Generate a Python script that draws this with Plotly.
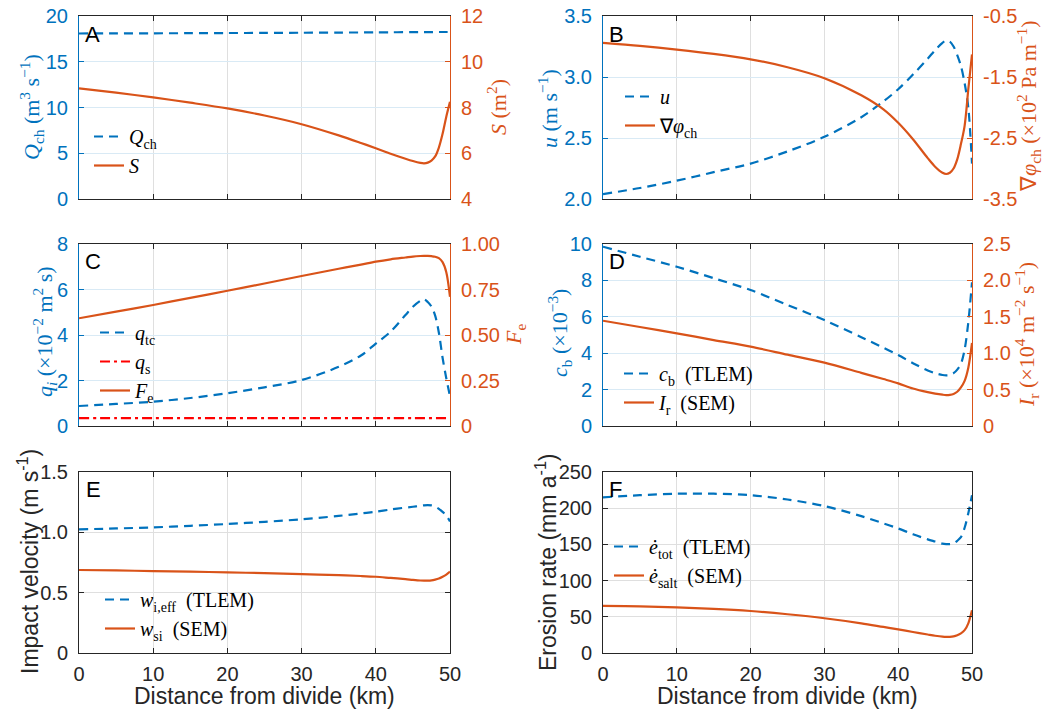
import plotly.graph_objects as go

# ---------------- data ----------------
dist_km = [0, 5, 10, 15, 20, 25, 30, 35, 38, 40, 42, 44, 45, 46, 46.5, 47, 47.5, 48, 48.5, 49, 49.5, 50]

# Panel A
Q_ch = [18.09, 18.10, 18.11, 18.12, 18.14, 18.15, 18.17, 18.19, 18.20, 18.21, 18.22, 18.23, 18.23, 18.24, 18.24, 18.24, 18.24, 18.25, 18.25, 18.25, 18.25, 18.25]
S_area = [8.84, 8.65, 8.44, 8.21, 7.96, 7.65, 7.27, 6.78, 6.45, 6.22, 5.98, 5.76, 5.66, 5.58, 5.56, 5.59, 5.68, 5.86, 6.25, 6.85, 7.6, 8.25]
# Panel B
u_vel = [2.04, 2.09, 2.15, 2.22, 2.29, 2.39, 2.51, 2.67, 2.80, 2.90, 3.02, 3.15, 3.22, 3.28, 3.30, 3.29, 3.25, 3.18, 3.09, 2.95, 2.75, 2.29]
grad_phi = [-0.94, -0.99, -1.05, -1.12, -1.21, -1.34, -1.52, -1.80, -2.03, -2.25, -2.52, -2.83, -2.97, -3.07, -3.09, -3.07, -3.00, -2.85, -2.60, -2.30, -1.70, -1.13]
# Panel C
q_tc = [0.88, 0.97, 1.07, 1.23, 1.44, 1.70, 2.02, 2.60, 3.10, 3.62, 4.15, 4.88, 5.24, 5.50, 5.57, 5.45, 5.25, 4.85, 4.10, 3.00, 2.10, 1.30]
q_s = [0.35] * 22
F_e = [0.592, 0.628, 0.665, 0.704, 0.743, 0.783, 0.824, 0.864, 0.887, 0.903, 0.916, 0.926, 0.931, 0.934, 0.935, 0.935, 0.933, 0.930, 0.922, 0.900, 0.845, 0.71]
# Panel D
c_b = [9.85, 9.30, 8.75, 8.12, 7.47, 6.65, 5.82, 4.88, 4.30, 3.90, 3.45, 3.05, 2.90, 2.80, 2.78, 2.80, 2.90, 3.10, 3.42, 4.20, 5.70, 7.90]
I_r = [1.446, 1.36, 1.273, 1.18, 1.09, 0.98, 0.87, 0.73, 0.645, 0.586, 0.515, 0.465, 0.445, 0.43, 0.425, 0.428, 0.44, 0.47, 0.53, 0.62, 0.80, 1.14]
# Panel E
w_ieff = [1.025, 1.032, 1.041, 1.054, 1.069, 1.087, 1.108, 1.136, 1.157, 1.171, 1.189, 1.205, 1.212, 1.220, 1.224, 1.226, 1.223, 1.213, 1.195, 1.170, 1.140, 1.090]
w_si = [0.688, 0.684, 0.679, 0.674, 0.668, 0.662, 0.654, 0.645, 0.638, 0.632, 0.622, 0.612, 0.606, 0.601, 0.600, 0.600, 0.602, 0.608, 0.617, 0.632, 0.650, 0.674]
# Panel F
e_tot = [215, 218, 220, 220, 218, 212, 203, 189, 179, 172, 164, 157, 154, 151, 150.5, 150.5, 151.5, 155, 160, 173, 193, 218]
e_salt = [65, 64.5, 63, 61, 58, 53.5, 48, 41, 36, 32.7, 29, 25.5, 23.8, 22.5, 22.2, 22.3, 23, 24.5, 27, 31.5, 41, 59]

x_ticks = [0, 10, 20, 30, 40, 50]

# ---------------- style ----------------
W, H = 1045, 713
BLUE = "#0072BD"
ORANGE = "#D95319"
RED = "#FF0000"
DARK = "#262626"
GRIDX = "#DFDFDF"
GRIDB = "#D9EAF5"
SANS = "Liberation Sans"
SERIF = "Liberation Serif"
DASH = "9px,6px"
DASHDOT = "10px,4px,3px,4px"
LW = 2.2


def px(x):
    return x / W


def py(y):
    return 1 - y / H


XL = [px(79), px(450)]
XR = [px(603), px(972)]
Y1 = [py(199), py(16)]
Y2 = [py(426), py(244)]
Y3 = [py(653), py(472)]

fig = go.Figure()


def add(xa, ya, y, name, color, dash, legend):
    fig.add_trace(go.Scatter(
        x=dist_km, y=y, xaxis=xa, yaxis=ya, mode="lines", name=name,
        line=dict(color=color, width=LW, dash=dash, shape="spline", smoothing=0.9),
        legend=legend, hoverinfo="skip"))


add("x", "y", Q_ch, "<i>Q</i><sub>ch</sub>", BLUE, DASH, "legend")
add("x", "y2", S_area, "<i>S</i>", ORANGE, "solid", "legend")
add("x2", "y3", u_vel, "<i>u</i>", BLUE, DASH, "legend2")
add("x2", "y4", grad_phi, "∇<i>φ</i><sub>ch</sub>", ORANGE, "solid", "legend2")
add("x3", "y5", q_tc, "<i>q</i><sub>tc</sub>", BLUE, DASH, "legend3")
add("x3", "y5", q_s, "<i>q</i><sub>s</sub>", RED, DASHDOT, "legend3")
add("x3", "y6", F_e, "<i>F</i><sub>e</sub>", ORANGE, "solid", "legend3")
add("x4", "y7", c_b, "<i>c</i><sub>b</sub>  (TLEM)", BLUE, DASH, "legend4")
add("x4", "y8", I_r, "<i>I</i><sub>r</sub>  (SEM)", ORANGE, "solid", "legend4")
add("x5", "y9", w_ieff, "<i>w</i><sub>i,eff</sub>  (TLEM)", BLUE, DASH, "legend5")
add("x5", "y9", w_si, "<i>w</i><sub>si</sub>  (SEM)", ORANGE, "solid", "legend5")
add("x6", "y10", e_tot, "<i>ė</i><sub>tot</sub>  (TLEM)", BLUE, DASH, "legend6")
add("x6", "y10", e_salt, "<i>ė</i><sub>salt</sub>  (SEM)", ORANGE, "solid", "legend6")

TICKFONT = 20


def xaxis(domain, anchor, labels):
    return dict(domain=domain, anchor=anchor, range=[0, 50], tickvals=x_ticks,
                showticklabels=labels, ticks="inside", ticklen=5, tickcolor=DARK,
                mirror="ticks", showline=True, linecolor=DARK, linewidth=1,
                showgrid=True, gridcolor=GRIDX, gridwidth=1, zeroline=False,
                tickfont=dict(family=SANS, size=TICKFONT, color=DARK),
                ticklabelstandoff=3, automargin=False)


def yleft(domain, anchor, rng, vals, text, color, grid, mirror=False):
    return dict(domain=domain, anchor=anchor, range=rng, tickvals=vals, ticktext=text,
                ticks="inside", ticklen=5, tickcolor=color, showline=True,
                linecolor=color, linewidth=1, mirror=("ticks" if mirror else False),
                showgrid=True, gridcolor=grid, gridwidth=1, zeroline=False,
                tickfont=dict(family=SANS, size=TICKFONT, color=color),
                ticklabelstandoff=6, automargin=False)


def yright(over, anchor, rng, vals, text):
    return dict(overlaying=over, side="right", anchor=anchor, range=rng, tickvals=vals,
                ticktext=text, ticks="inside", ticklen=5, tickcolor=ORANGE, showline=True,
                linecolor=ORANGE, linewidth=1, showgrid=False, zeroline=False,
                tickfont=dict(family=SANS, size=TICKFONT, color=ORANGE),
                ticklabelstandoff=6, automargin=False)


layout = dict(
    width=W, height=H, margin=dict(l=0, r=0, t=0, b=0, autoexpand=False),
    paper_bgcolor="white", plot_bgcolor="white", showlegend=True,
    xaxis=xaxis(XL, "y", False),
    xaxis2=xaxis(XR, "y3", False),
    xaxis3=xaxis(XL, "y5", False),
    xaxis4=xaxis(XR, "y7", False),
    xaxis5=xaxis(XL, "y9", True),
    xaxis6=xaxis(XR, "y10", True),
    yaxis=yleft(Y1, "x", [0, 20], [0, 5, 10, 15, 20], ["0", "5", "10", "15", "20"], BLUE, GRIDB),
    yaxis2=yright("y", "x", [4, 12], [4, 6, 8, 10, 12], ["4", "6", "8", "10", "12"]),
    yaxis3=yleft(Y1, "x2", [2.0, 3.5], [2.0, 2.5, 3.0, 3.5], ["2.0", "2.5", "3.0", "3.5"], BLUE, GRIDB),
    yaxis4=yright("y3", "x2", [-3.5, -0.5], [-3.5, -2.5, -1.5, -0.5], ["-3.5", "-2.5", "-1.5", "-0.5"]),
    yaxis5=yleft(Y2, "x3", [0, 8], [0, 2, 4, 6, 8], ["0", "2", "4", "6", "8"], BLUE, GRIDB),
    yaxis6=yright("y5", "x3", [0, 1], [0, 0.25, 0.5, 0.75, 1.0], ["0", "0.25", "0.50", "0.75", "1.00"]),
    yaxis7=yleft(Y2, "x4", [0, 10], [0, 2, 4, 6, 8, 10], ["0", "2", "4", "6", "8", "10"], BLUE, GRIDB),
    yaxis8=yright("y7", "x4", [0, 2.5], [0, 0.5, 1.0, 1.5, 2.0, 2.5], ["0", "0.5", "1.0", "1.5", "2.0", "2.5"]),
    yaxis9=yleft(Y3, "x5", [0, 1.5], [0, 0.5, 1.0, 1.5], ["0", "0.5", "1.0", "1.5"], DARK, GRIDX, True),
    yaxis10=yleft(Y3, "x6", [0, 250], [0, 50, 100, 150, 200, 250], ["0", "50", "100", "150", "200", "250"], DARK, GRIDX, True),
)


def legend(x, y):
    return dict(x=px(x), y=py(y), xanchor="left", yanchor="top", bgcolor="rgba(0,0,0,0)",
                borderwidth=0, font=dict(family=SERIF, size=20, color="black"),
                tracegroupgap=0, itemclick=False)


layout["legend"] = legend(89, 117)
layout["legend2"] = legend(620, 77)
layout["legend3"] = legend(95, 313)
layout["legend4"] = legend(619, 354)
layout["legend5"] = legend(100, 580)
layout["legend6"] = legend(609, 527)

fig.update_layout(**layout)

annotations = []


def label(x, y, text, color, family, size, angle=-90):
    annotations.append(dict(x=px(x), y=py(y), xref="paper", yref="paper", text=text,
                            showarrow=False, textangle=angle, xanchor="center", yanchor="middle",
                            font=dict(family=family, size=size, color=color)))


# y-axis titles
label(32, 107, "<i>Q</i><sub>ch</sub> (m<sup>3</sup> s<sup>−1</sup>)", BLUE, SERIF, 22)
label(497, 107, "<i>S</i> (m<sup>2</sup>)", ORANGE, SERIF, 22)
label(548, 109, "<i>u</i> (m s<sup>−1</sup>)", BLUE, SERIF, 22)
label(1029, 107, "∇<i>φ</i><sub>ch</sub> (×10<sup>2</sup> Pa m<sup>−1</sup>)", ORANGE, SERIF, 22)
label(44, 332, "<i>q<sub>i</sub></i> (×10<sup>−2</sup> m<sup>2</sup> s)", BLUE, SERIF, 22)
label(515, 335, "<i>F</i><sub>e</sub>", ORANGE, SERIF, 22)
label(559, 333, "<i>c</i><sub>b</sub> (×10<sup>−3</sup>)", BLUE, SERIF, 22)
label(1027, 335, "<i>I</i><sub>r</sub> (×10<sup>4</sup> m<sup>−2</sup> s<sup>−1</sup>)", ORANGE, SERIF, 22)
label(28, 562, "Impact velocity (m s<sup>-1</sup>)", DARK, SANS, 23)
label(546, 562, "Erosion rate (mm a<sup>-1</sup>)", DARK, SANS, 23)
# x-axis titles
label(264, 696, "Distance from divide (km)", DARK, SANS, 23, 0)
label(787, 696, "Distance from divide (km)", DARK, SANS, 23, 0)

# panel letters
for letter, lx, ly in [("A", 83, 34), ("B", 607, 34), ("C", 83, 262),
                       ("D", 607, 262), ("E", 84, 489), ("F", 607, 489)]:
    annotations.append(dict(x=px(lx), y=py(ly), xref="paper", yref="paper", text=letter,
                            showarrow=False, xanchor="left", yanchor="middle",
                            font=dict(family=SANS, size=22, color="black")))

fig.update_layout(annotations=annotations)
fig.write_html("out.html", config={"displayModeBar": False},
               post_script="document.body.style.margin='0px';")
